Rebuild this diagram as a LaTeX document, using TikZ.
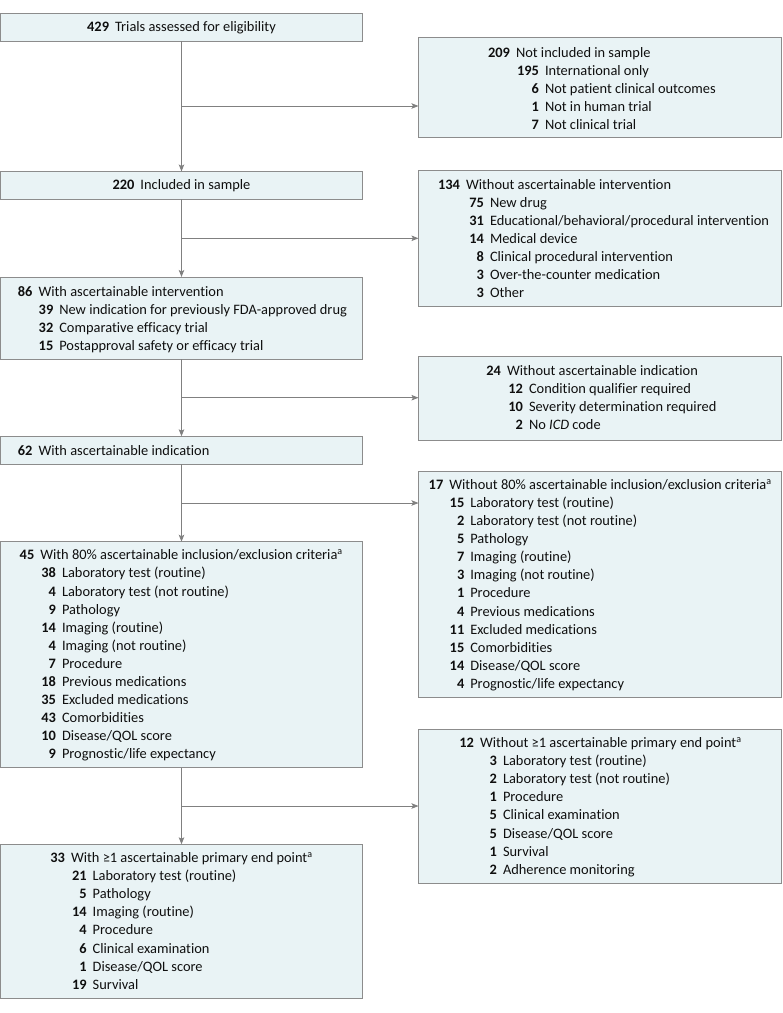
\documentclass[tikz,border=0pt]{standalone}
\usepackage{fontspec}
\setmainfont[Ligatures=CommonOff]{Carlito}
\usetikzlibrary{arrows.meta}
\definecolor{boxfill}{RGB}{233,243,245}
\definecolor{boxline}{RGB}{140,140,140}
\definecolor{arrline}{RGB}{128,128,128}
\definecolor{txt}{RGB}{15,15,15}
\tikzset{
 fbox/.style={draw=boxline, fill=boxfill, line width=1pt, inner sep=0pt, outer sep=0pt, anchor=north west, rectangle, text=txt, font=\fontsize{14.4}{17}\selectfont},
 lbl/.style={inner sep=0pt, outer sep=0pt, text=txt, font=\fontsize{14.4}{17}\selectfont},
 flow/.style={draw=arrline, line width=0.9pt},
 arr/.style={flow, -{Stealth[length=7pt,width=5.5pt,inset=1.5pt]}},
}
% name, x of number's right edge, first baseline, row index, number, text
\newcommand\trow[6]{%
  \node[lbl, anchor=base east] (#1n) at ({#2},{#3+18.1*#4}) {\textbf{#5}};
  \node[lbl, anchor=base west] (#1t) at ([xshift=6pt]#1n.base east) {#6};}
\begin{document}
\begin{tikzpicture}[x=1pt,y=-1pt]
\useasboundingbox (0,0) rectangle (783,1013);
% ---------- left column boxes ----------
\node[fbox, minimum width=362pt, minimum height=28pt] (tr) at (0.5,13.3) {\textbf{429}\hspace{6pt}Trials assessed for eligibility};
\node[fbox, minimum width=362pt, minimum height=27.8pt] (inc) at (0.5,171.5) {\textbf{220}\hspace{6pt}Included in sample};
\node[fbox, minimum width=362pt, minimum height=82pt] (ai) at (0.5,277) {};
\node[fbox, minimum width=362pt, minimum height=28pt] (aind) at (0.5,436.3) {};
\node[fbox, minimum width=362pt, minimum height=226pt] (acr) at (0.5,541.7) {};
\node[fbox, minimum width=362pt, minimum height=154.3pt] (aep) at (0.5,844.3) {};
% ---------- right column boxes ----------
\node[fbox, minimum width=362.5pt, minimum height=100pt] (nb) at (418.5,37.3) {};
\node[fbox, minimum width=362.5pt, minimum height=135.3pt] (wi) at (418.5,170.7) {};
\node[fbox, minimum width=362.5pt, minimum height=83.3pt] (wind) at (418.5,356.7) {};
\node[fbox, minimum width=362.5pt, minimum height=226pt] (wcr) at (418.5,471) {};
\node[fbox, minimum width=362.5pt, minimum height=153.7pt] (wep) at (418.5,729.3) {};
% ---------- texts ----------
\trow{nb0}{510}{57.2}{0}{209}{Not included in sample}
\trow{nb1}{539}{57.2}{1}{195}{International only}
\trow{nb2}{539}{57.2}{2}{6}{Not patient clinical outcomes}
\trow{nb3}{539}{57.2}{3}{1}{Not in human trial}
\trow{nb4}{539}{57.2}{4}{7}{Not clinical trial}
%
\trow{wi0}{460}{189}{0}{134}{Without ascertainable intervention}
\trow{wi1}{484}{189}{1}{75}{New drug}
\trow{wi2}{484}{189}{2}{31}{Educational/behavioral/procedural intervention}
\trow{wi3}{484}{189}{3}{14}{Medical device}
\trow{wi4}{484}{189}{4}{8}{Clinical procedural intervention}
\trow{wi5}{484}{189}{5}{3}{Over-the-counter medication}
\trow{wi6}{484}{189}{6}{3}{Other}
%
\trow{ai0}{32.5}{296.2}{0}{86}{With ascertainable intervention}
\trow{ai1}{53.3}{296.2}{1}{39}{New indication for previously FDA-approved drug}
\trow{ai2}{53.3}{296.2}{2}{32}{Comparative efficacy trial}
\trow{ai3}{53.3}{296.2}{3}{15}{Postapproval safety or efficacy trial}
%
\trow{wd0}{501}{375}{0}{24}{Without ascertainable indication}
\trow{wd1}{523}{375}{1}{12}{Condition qualifier required}
\trow{wd2}{523}{375}{2}{10}{Severity determination required}
\trow{wd3}{523}{375}{3}{2}{No \textit{ICD} code}
%
\trow{ad0}{32.5}{455}{0}{62}{With ascertainable indication}
%
\trow{wc0}{443.3}{489.3}{0}{17}{Without 80\% ascertainable inclusion/exclusion criteria\textsuperscript{a}}
\trow{wc1}{464.3}{489.3}{1}{15}{Laboratory test (routine)}
\trow{wc2}{464.3}{489.3}{2}{2}{Laboratory test (not routine)}
\trow{wc3}{464.3}{489.3}{3}{5}{Pathology}
\trow{wc4}{464.3}{489.3}{4}{7}{Imaging (routine)}
\trow{wc5}{464.3}{489.3}{5}{3}{Imaging (not routine)}
\trow{wc6}{464.3}{489.3}{6}{1}{Procedure}
\trow{wc7}{464.3}{489.3}{7}{4}{Previous medications}
\trow{wc8}{464.3}{489.3}{8}{11}{Excluded medications}
\trow{wc9}{464.3}{489.3}{9}{15}{Comorbidities}
\trow{wc10}{464.3}{489.3}{10}{14}{Disease/QOL score}
\trow{wc11}{464.3}{489.3}{11}{4}{Prognostic/life expectancy}
%
\trow{ac0}{34.3}{559.8}{0}{45}{With 80\% ascertainable inclusion/exclusion criteria\textsuperscript{a}}
\trow{ac1}{56}{559.8}{1}{38}{Laboratory test (routine)}
\trow{ac2}{56}{559.8}{2}{4}{Laboratory test (not routine)}
\trow{ac3}{56}{559.8}{3}{9}{Pathology}
\trow{ac4}{56}{559.8}{4}{14}{Imaging (routine)}
\trow{ac5}{56}{559.8}{5}{4}{Imaging (not routine)}
\trow{ac6}{56}{559.8}{6}{7}{Procedure}
\trow{ac7}{56}{559.8}{7}{18}{Previous medications}
\trow{ac8}{56}{559.8}{8}{35}{Excluded medications}
\trow{ac9}{56}{559.8}{9}{43}{Comorbidities}
\trow{ac10}{56}{559.8}{10}{10}{Disease/QOL score}
\trow{ac11}{56}{559.8}{11}{9}{Prognostic/life expectancy}
%
\trow{we0}{474}{747.5}{0}{12}{Without ≥1 ascertainable primary end point\textsuperscript{a}}
\trow{we1}{497}{747.5}{1}{3}{Laboratory test (routine)}
\trow{we2}{497}{747.5}{2}{2}{Laboratory test (not routine)}
\trow{we3}{497}{747.5}{3}{1}{Procedure}
\trow{we4}{497}{747.5}{4}{5}{Clinical examination}
\trow{we5}{497}{747.5}{5}{5}{Disease/QOL score}
\trow{we6}{497}{747.5}{6}{1}{Survival}
\trow{we7}{497}{747.5}{7}{2}{Adherence monitoring}
%
\trow{ae0}{65}{862.5}{0}{33}{With ≥1 ascertainable primary end point\textsuperscript{a}}
\trow{ae1}{86.7}{862.5}{1}{21}{Laboratory test (routine)}
\trow{ae2}{86.7}{862.5}{2}{5}{Pathology}
\trow{ae3}{86.7}{862.5}{3}{14}{Imaging (routine)}
\trow{ae4}{86.7}{862.5}{4}{4}{Procedure}
\trow{ae5}{86.7}{862.5}{5}{6}{Clinical examination}
\trow{ae6}{86.7}{862.5}{6}{1}{Disease/QOL score}
\trow{ae7}{86.7}{862.5}{7}{19}{Survival}
% ---------- connectors ----------
\coordinate (j1) at (181.5,106);
\coordinate (j2) at (181.5,238.3);
\coordinate (j3) at (181.5,397.7);
\coordinate (j4) at (181.5,503);
\coordinate (j5) at (181.5,806);
\draw[arr] (tr.south) -- (inc.north);
\draw[arr] (inc.south) -- (ai.north);
\draw[arr] (ai.south) -- (aind.north);
\draw[arr] (aind.south) -- (acr.north);
\draw[arr] (acr.south) -- (aep.north);
\draw[arr] (j1) -- (j1 -| nb.west);
\draw[arr] (j2) -- (j2 -| wi.west);
\draw[arr] (j3) -- (j3 -| wind.west);
\draw[arr] (j4) -- (j4 -| wcr.west);
\draw[arr] (j5) -- (j5 -| wep.west);
\end{tikzpicture}
\end{document}
